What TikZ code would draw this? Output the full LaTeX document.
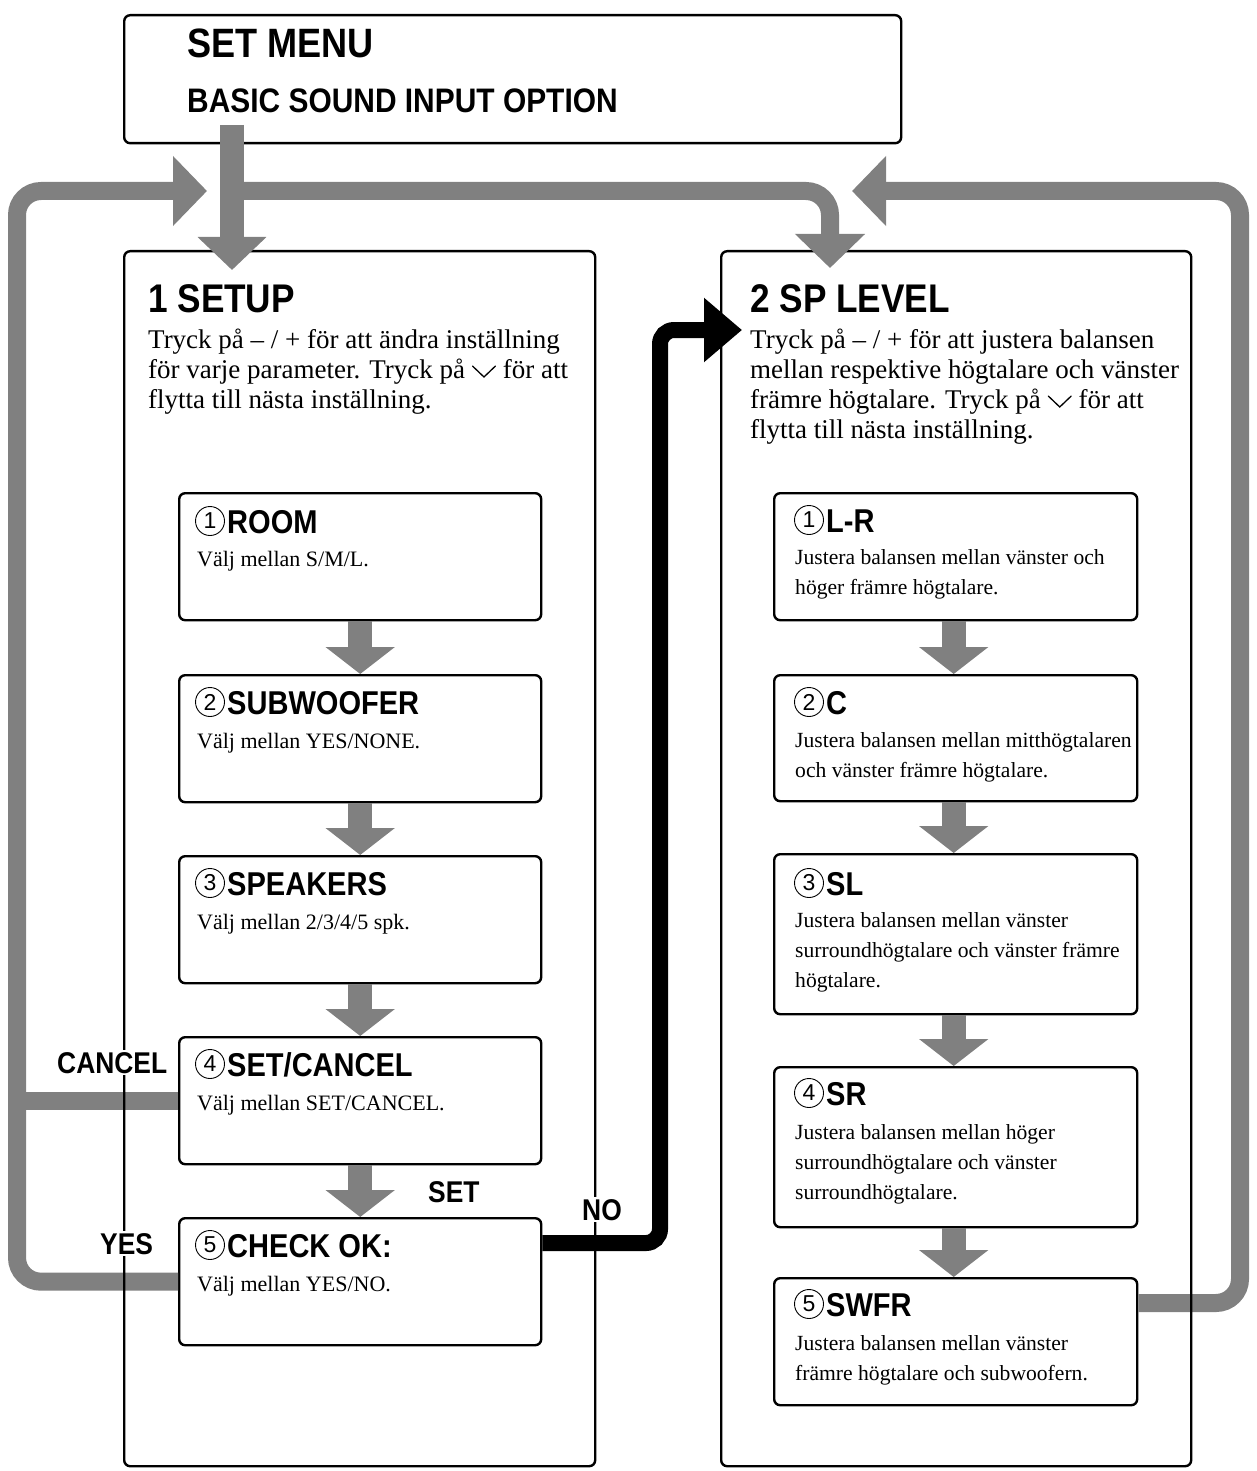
\documentclass[tikz,border=0pt]{standalone}
\usepackage{fontspec}
\usepackage{graphicx}
\setmainfont{Liberation Serif}
\setsansfont{Liberation Sans}
\newfontfamily\hdfont[FakeStretch=0.88]{Liberation Sans}
\usetikzlibrary{arrows.meta}
\definecolor{flowgray}{RGB}{128,128,128}
\newcommand\dnchev{\tikz[baseline=0pt,x=1pt,y=1pt]\draw[line width=1.3pt, draw=black, line cap=round, line join=miter] (0,12) -- (11.5,1) -- (23,12);}
\newcommand\lines[1]{\parbox[t]{520pt}{\raggedright #1}}
\tikzset{
  box/.style={draw=black, line width=2.4pt, rounded corners=6pt, anchor=north west, inner sep=0},
  toptext/.style={anchor=base west, inner sep=0, font=\hdfont\bfseries},
  phead/.style={anchor=base west, inner sep=0, font=\hdfont\bfseries\fontsize{40}{40}\selectfont},
  pbody/.style={anchor=base west, inner sep=0, font=\fontsize{27}{30}\selectfont},
  ihead/.style={anchor=base west, inner sep=0, font=\hdfont\bfseries\fontsize{33}{33}\selectfont},
  ibody/.style={anchor=base west, inner sep=0, font=\fontsize{22}{30}\selectfont},
  rbody/.style={anchor=base west, inner sep=0, font=\fontsize{21.6}{30}\selectfont},
  cnum/.style={circle, draw=black, line width=0.9pt, inner sep=0, minimum size=29pt, font=\sffamily\fontsize{23}{23}\selectfont},
  lab/.style={anchor=base west, inner sep=2pt, fill=white, font=\hdfont\bfseries\fontsize{30}{30}\selectfont},
  steparrow/.style={draw=flowgray, line width=24pt, -{Triangle[width=68pt,length=27pt]}},
  loopline/.style={draw=flowgray, line width=18pt, rounded corners=24pt},
  looparrow/.style={loopline, -{Triangle[width=68pt,length=34pt]}},
  noarrow/.style={draw=black, line width=16pt, rounded corners=14pt, -{Triangle[width=62pt,length=38pt]}}
}
\begin{document}
\begin{tikzpicture}[x=1pt,y=-1pt]
\useasboundingbox (0,0) rectangle (1256,1471);
% top box
\node[box, minimum width=777pt, minimum height=128pt] (topbox) at (123,14) {};
\node[toptext, font=\hdfont\bfseries\fontsize{41}{41}\selectfont] (t1) at (187,58) {SET MENU};
\node[toptext, font=\hdfont\bfseries\fontsize{34}{34}\selectfont] (t2) at (187,113) {BASIC SOUND INPUT OPTION};

% inner left boxes
\node[box, minimum width=362pt, minimum height=127pt] (l1) at (178,492) {};
\node[box, minimum width=362pt, minimum height=127pt] (l2) at (178,674) {};
\node[box, minimum width=362pt, minimum height=127pt] (l3) at (178,855) {};
\node[box, minimum width=362pt, minimum height=127pt] (l4) at (178,1036) {};
\node[box, minimum width=362pt, minimum height=127pt] (l5) at (178,1217) {};
% inner right boxes
\node[box, minimum width=363pt, minimum height=127pt] (r1) at (773,492) {};
\node[box, minimum width=363pt, minimum height=126pt] (r2) at (773,674) {};
\node[box, minimum width=363pt, minimum height=160pt] (r3) at (773,853) {};
\node[box, minimum width=363pt, minimum height=160pt] (r4) at (773,1066) {};
\node[box, minimum width=363pt, minimum height=127pt] (r5) at (773,1277) {};

% coordinates for connectors
\coordinate (rail) at (17,191);
\coordinate (ltip) at (207,191);
\coordinate (rrail) at (1240,191);
\coordinate (rtip) at (852,191);
\coordinate (swy) at (0,1303);
\coordinate (noy) at (0,1243);
\coordinate (nox) at (660,0);
\coordinate (notip) at (742,330);
\coordinate (tstart) at (232,125);
\coordinate (ttip) at (232,270);
\coordinate (split) at (232,191);
\coordinate (otip) at (830,268);

% loop lines (under panel borders)
\draw[looparrow] (l5.west) -- (l5.west -| rail) -- (rail) -- (ltip);
\draw[loopline] (l4.west) -- (l4.west -| rail);
\draw[looparrow] (r5.east |- swy) -| (rrail) -- (rtip);

% panels
\node[box, minimum width=471pt, minimum height=1215pt] (setup) at (123,250) {};
\node[box, minimum width=470pt, minimum height=1215pt] (splevel) at (720,250) {};

% arrows into panels
\draw[steparrow, -{Triangle[width=67pt,length=33pt]}] (tstart) -- (ttip);
\draw[looparrow] (split) -| (otip);
\draw[noarrow] (l5.east |- noy) -| (nox |- notip) -- (notip);

% step arrows
\draw[steparrow] (l1.south) -- (l2.north);
\draw[steparrow] (l2.south) -- (l3.north);
\draw[steparrow] (l3.south) -- (l4.north);
\draw[steparrow] (l4.south) -- (l5.north);
\draw[steparrow] ([xshift=-2pt]r1.south) -- ([xshift=-2pt]r2.north);
\draw[steparrow] ([xshift=-2pt]r2.south) -- ([xshift=-2pt]r3.north);
\draw[steparrow] ([xshift=-2pt]r3.south) -- ([xshift=-2pt]r4.north);
\draw[steparrow] ([xshift=-2pt]r4.south) -- ([xshift=-2pt]r5.north);

% panel texts
\node[phead] (p1h) at (148,312) {1 SETUP};
\node[pbody] (p1b) at (148,348) {\lines{Tryck på – / + för att ändra inställning\\för varje parameter. Tryck på \dnchev{} för att\\flytta till nästa inställning.}};
\node[phead] (p2h) at (750,312) {2 SP LEVEL};
\node[pbody] (p2b) at (750,348) {\lines{Tryck på – / + för att justera balansen\\mellan respektive högtalare och vänster\\främre högtalare. Tryck på \dnchev{} för att\\flytta till nästa inställning.}};

% left inner texts
\node[cnum] (c1) at (210,521) {1};
\node[ihead] (l1h) at (227,533) {ROOM};
\node[ibody] (l1b) at (197,566) {Välj mellan S/M/L.};
\node[cnum] (c2) at (210,702) {2};
\node[ihead] (l2h) at (227,714) {SUBWOOFER};
\node[ibody] (l2b) at (197,748) {Välj mellan YES/NONE.};
\node[cnum] (c3) at (210,883) {3};
\node[ihead] (l3h) at (227,895) {SPEAKERS};
\node[ibody] (l3b) at (197,929) {Välj mellan 2/3/4/5 spk.};
\node[cnum] (c4) at (210,1064) {4};
\node[ihead] (l4h) at (227,1076) {SET/CANCEL};
\node[ibody] (l4b) at (197,1110) {Välj mellan SET/CANCEL.};
\node[cnum] (c5) at (210,1245) {5};
\node[ihead] (l5h) at (227,1257) {CHECK OK:};
\node[ibody] (l5b) at (197,1291) {Välj mellan YES/NO.};

% right inner texts
\node[cnum] (d1) at (809,520) {1};
\node[ihead] (r1h) at (826,532) {L-R};
\node[rbody] (r1b) at (795,564) {\lines{Justera balansen mellan vänster och\\höger främre högtalare.}};
\node[cnum] (d2) at (809,702) {2};
\node[ihead] (r2h) at (826,714) {C};
\node[rbody] (r2b) at (795,747) {\lines{Justera balansen mellan mitthögtalaren\\och vänster främre högtalare.}};
\node[cnum] (d3) at (809,883) {3};
\node[ihead] (r3h) at (826,895) {SL};
\node[rbody] (r3b) at (795,927) {\lines{Justera balansen mellan vänster\\surroundhögtalare och vänster främre\\högtalare.}};
\node[cnum] (d4) at (809,1093) {4};
\node[ihead] (r4h) at (826,1105) {SR};
\node[rbody] (r4b) at (795,1139) {\lines{Justera balansen mellan höger\\surroundhögtalare och vänster\\surroundhögtalare.}};
\node[cnum] (d5) at (809,1304) {5};
\node[ihead] (r5h) at (826,1316) {SWFR};
\node[rbody] (r5b) at (795,1350) {\lines{Justera balansen mellan vänster\\främre högtalare och subwoofern.}};

% labels
\node[lab] (lcancel) at (55,1073) {CANCEL};
\node[lab] (lyes) at (98,1254) {YES};
\node[lab] (lset) at (426,1202) {SET};
\node[lab] (lno) at (580,1220) {NO};
\end{tikzpicture}
\end{document}
